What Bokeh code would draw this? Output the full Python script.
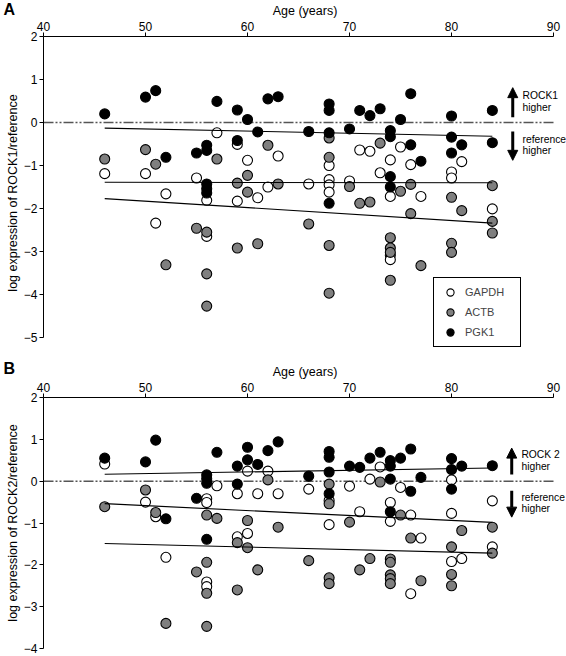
from bokeh.plotting import figure
from bokeh.models import Range1d, FixedTicker, Label, Legend, LegendItem, Arrow, NormalHead, ColumnDataSource
from bokeh.layouts import column
from bokeh.embed import file_html
from bokeh.resources import INLINE

FONT = "Liberation Sans"
AGE_TICKS = [40, 50, 60, 70, 80, 90]
SERIES = ["GAPDH", "ACTB", "PGK1"]
FILLS = {"GAPDH": "white", "ACTB": "#7f7f7f", "PGK1": "black"}

# ---------------- Panel A : ROCK1 ----------------
a_gapdh_age = [57, 59, 60, 63, 46, 50, 55, 56, 52, 59, 61, 62, 51, 56, 71, 72, 75, 74, 81, 68, 76, 73,
               80, 80, 66, 68, 68, 68, 70, 74, 77, 84, 74, 74]
a_gapdh_val = [-0.24, -0.51, -0.88, -0.78, -1.19, -1.19, -1.29, -1.81, -1.66, -1.83, -1.75, -1.50, -2.34,
               -2.65, -0.64, -0.67, -0.57, -0.87, -0.91, -1.00, -0.98, -1.17, -1.15, -1.29, -1.43, -1.33,
               -1.45, -1.62, -1.36, -1.72, -1.72, -2.01, -3.09, -3.19]
a_actb_age = [46, 50, 51, 57, 62, 59, 60, 60, 63, 55, 56, 59, 61, 52, 56, 56, 68, 73, 68, 70, 71, 72, 75,
              76, 80, 81, 84, 84, 84, 76, 66, 68, 74, 74, 74, 80, 80, 77, 74, 68]
a_actb_val = [-0.85, -0.63, -0.97, -0.85, -0.53, -1.41, -1.23, -1.62, -1.43, -2.46, -2.55, -2.92, -2.82,
              -3.31, -3.52, -4.27, -0.36, -0.48, -0.81, -1.49, -1.88, -1.85, -1.60, -1.44, -1.74, -2.05,
              -1.47, -2.30, -2.57, -2.12, -2.36, -2.86, -2.68, -2.92, -3.02, -2.81, -3.02, -3.33, -3.67, -3.97]
a_pgk1_age = [46, 50, 51, 57, 59, 60, 62, 63, 61, 59, 56, 56, 55, 52, 56, 56, 56, 76, 68, 68, 71, 72, 73,
              75, 80, 84, 66, 68, 70, 74, 74, 80, 81, 84, 76, 80, 77, 74, 74, 68]
a_pgk1_val = [0.20, 0.59, 0.74, 0.49, 0.29, 0.07, 0.55, 0.60, -0.22, -0.42, -0.53, -0.65, -0.71, -0.81,
              -1.43, -1.54, -1.64, 0.67, 0.43, 0.28, 0.28, 0.16, 0.32, 0.07, 0.15, 0.28, -0.21, -0.24,
              -0.15, -0.19, -0.33, -0.34, -0.52, -0.47, -0.52, -0.71, -0.90, -1.26, -1.50, -1.88]
# linear trend (slope, intercept)
a_trend_slope = {"GAPDH": -0.0003, "ACTB": -0.015, "PGK1": -0.005}
a_trend_icpt = {"GAPDH": -1.376, "ACTB": -1.08, "PGK1": 0.10}

# ---------------- Panel B : ROCK2 ----------------
b_gapdh_age = [46, 57, 60, 62, 59, 61, 63, 56, 56, 50, 51, 60, 59, 52, 56, 56, 73, 72, 80, 66, 70, 75, 68,
               84, 74, 71, 76, 80, 68, 74, 77, 84, 81, 80, 76]
b_gapdh_val = [0.41, -0.11, 0.24, 0.24, -0.30, -0.30, -0.30, -0.42, -0.51, -0.50, -0.85, -1.25, -1.33,
               -1.82, -2.41, -2.52, 0.34, 0.05, 0.03, -0.19, -0.12, -0.15, -0.46, -0.47, -0.51, -0.73,
               -0.81, -0.77, -1.04, -0.96, -1.36, -1.57, -1.85, -1.92, -2.69]
b_actb_age = [62, 50, 46, 51, 56, 57, 60, 63, 59, 60, 56, 55, 61, 56, 59, 52, 56, 73, 68, 68, 75, 70, 84,
              81, 76, 80, 84, 66, 72, 74, 74, 71, 74, 74, 74, 68, 68, 77, 80, 80]
b_actb_val = [0.03, -0.21, -0.61, -0.75, -0.81, -0.89, -0.94, -1.10, -1.47, -1.59, -1.94, -2.17, -2.12,
              -2.68, -2.60, -3.40, -3.47, -0.02, -0.07, -0.54, -0.81, -0.98, -1.10, -1.18, -1.36, -1.57,
              -1.72, -1.90, -1.85, -1.86, -1.94, -2.12, -2.24, -2.33, -2.45, -2.31, -2.45, -2.38, -2.23, -2.50]
b_pgk1_age = [46, 50, 51, 57, 56, 56, 56, 59, 59, 60, 60, 61, 62, 63, 55, 52, 56, 76, 68, 68, 68, 72, 73,
              74, 74, 75, 70, 71, 80, 80, 81, 84, 66, 74, 77, 76, 68, 80, 74]
b_pgk1_val = [0.55, 0.46, 0.98, 0.69, 0.15, 0.06, -0.05, 0.36, -0.07, 0.81, 0.51, 0.40, 0.73, 0.94, -0.41,
              -0.90, -1.39, 0.77, 0.71, 0.57, 0.22, 0.55, 0.69, 0.49, 0.36, 0.55, 0.36, 0.33, 0.54, 0.28,
              0.36, 0.37, 0.12, 0.05, 0.09, -0.24, -0.30, -0.19, -0.73]
b_trend_slope = {"GAPDH": -0.0118, "ACTB": -0.00605, "PGK1": 0.004}
b_trend_icpt = {"GAPDH": 0.005, "ACTB": -1.212, "PGK1": -0.02}

X_END = 91.27  # frame extends a little past 90 so the side notes fit; axis stops at 90


def make_panel(letter, letter_standoff, y_lo, y_hi, y_frame_lo, ylabel, data, slope, icpt, fig_h,
               b_top, b_bottom, arrows, texts, legend_loc=None):
    p = figure(width=566, height=fig_h, x_range=Range1d(40, X_END), y_range=Range1d(y_frame_lo, y_hi),
               x_axis_location="above", output_backend="svg", toolbar_location=None,
               min_border_left=43, min_border_right=0, min_border_top=b_top,
               min_border_bottom=b_bottom, title=letter)
    p.outline_line_color = None
    p.grid.visible = False
    p.background_fill_color = "white"

    t = p.title
    t.text_font = FONT
    t.text_font_size = "16px"
    t.text_font_style = "bold"
    t.text_color = "black"
    t.align = "left"
    t.offset = -40
    t.vertical_align = "bottom"
    t.standoff = letter_standoff

    for ax in (p.xaxis[0], p.yaxis[0]):
        ax.axis_line_color = "black"
        ax.axis_line_width = 1
        ax.major_tick_line_color = "black"
        ax.major_tick_out = 4
        ax.major_tick_in = 0
        ax.minor_tick_line_color = None
        ax.major_label_text_font = FONT
        ax.major_label_text_font_size = "12px"
        ax.major_label_text_color = "black"
        ax.axis_label_text_font = FONT
        ax.axis_label_text_font_size = "12.5px"
        ax.axis_label_text_font_style = "normal"
        ax.axis_label_text_color = "black"
        ax.major_label_standoff = 2
        ax.axis_label_standoff = 1
    p.xaxis[0].ticker = FixedTicker(ticks=AGE_TICKS)
    p.xaxis[0].bounds = (AGE_TICKS[0], AGE_TICKS[-1])
    p.yaxis[0].ticker = FixedTicker(ticks=list(range(y_lo, y_hi + 1)))
    p.yaxis[0].bounds = (y_lo, y_hi)
    p.xaxis[0].axis_label = "Age (years)"
    p.yaxis[0].axis_label = ylabel

    # zero reference line across the age axis
    p.segment(x0=[AGE_TICKS[0]], y0=[0], x1=[AGE_TICKS[-1]], y1=[0], line_color="#555555",
              line_width=1.5, line_dash="10 2 2 2 2 2")

    renderers = {}
    for name in SERIES:
        ages, vals = data[name]
        src = ColumnDataSource(dict(age=ages, val=vals))
        renderers[name] = p.scatter("age", "val", source=src, size=10, marker="circle",
                                    fill_color=FILLS[name], line_color="black", line_width=1.1)
    for name in SERIES:
        ages, _ = data[name]
        x0, x1 = min(ages), max(ages)
        p.line([x0, x1], [slope[name] * x0 + icpt[name], slope[name] * x1 + icpt[name]],
               line_color="black", line_width=1.1)

    for (xa, ys, ye) in arrows:
        p.add_layout(Arrow(end=NormalHead(size=10, fill_color="black", line_color="black"),
                           x_start=xa, y_start=ys, x_end=xa, y_end=ye,
                           line_color="black", line_width=3))
    for (tx, ty, tt) in texts:
        p.add_layout(Label(x=tx, y=ty, text=tt, text_font=FONT, text_font_size="10.3px",
                           text_baseline="middle", text_color="black"))

    if legend_loc is not None:
        leg = Legend(items=[LegendItem(label=n, renderers=[renderers[n]]) for n in SERIES],
                     location=legend_loc, orientation="vertical")
        leg.label_text_font = FONT
        leg.label_text_font_size = "11px"
        leg.border_line_color = "black"
        leg.border_line_alpha = 1
        leg.border_line_width = 1
        leg.background_fill_color = "white"
        leg.background_fill_alpha = 1
        leg.padding = 5
        leg.margin = 0
        leg.spacing = 2
        leg.glyph_width = 22
        leg.glyph_height = 18
        leg.label_height = 18
        leg.label_width = 50
        leg.label_standoff = 4
        p.add_layout(leg)
    return p


pa = make_panel("A", -35, -5, 2, -5.28, "log expression of ROCK1/reference",
                {"GAPDH": (a_gapdh_age, a_gapdh_val), "ACTB": (a_actb_age, a_actb_val),
                 "PGK1": (a_pgk1_age, a_pgk1_val)},
                a_trend_slope, a_trend_icpt, 350, 36, 1,
                [(86.0, 0.12, 0.81), (86.0, -0.21, -0.88)],
                [(86.96, 0.63, "ROCK1"), (86.96, 0.35, "higher"),
                 (86.96, -0.40, "reference"), (86.96, -0.65, "higher")],
                legend_loc=(390, 2))

pb = make_panel("B", -31, -4, 2, -4, "log expression of ROCK2/reference",
                {"GAPDH": (b_gapdh_age, b_gapdh_val), "ACTB": (b_actb_age, b_actb_val),
                 "PGK1": (b_pgk1_age, b_pgk1_val)},
                b_trend_slope, b_trend_icpt, 306, 47, 8,
                [(85.9, 0.16, 0.79), (85.9, -0.23, -0.86)],
                [(86.85, 0.63, "ROCK 2"), (86.85, 0.36, "higher"),
                 (86.85, -0.38, "reference"), (86.85, -0.65, "higher")])

layout = column(pa, pb, spacing=0)
open("out.html", "w").write(file_html(layout, INLINE))
